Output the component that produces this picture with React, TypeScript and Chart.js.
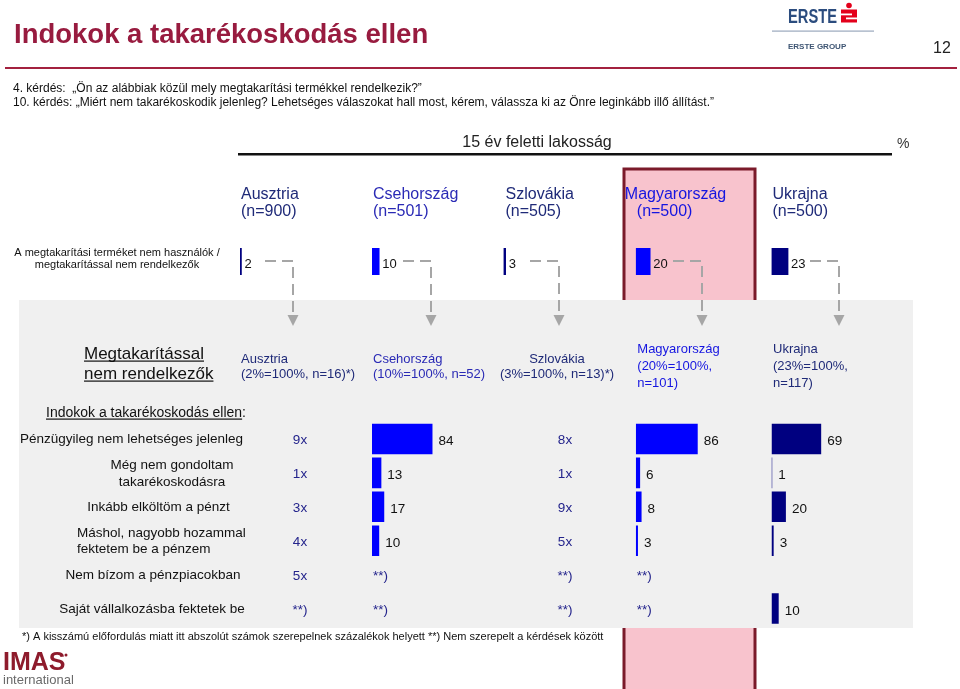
import React, { useEffect, useRef } from 'react';
import { Chart, registerables } from 'chart.js';

Chart.register(...registerables);

// ---------------- DATA ----------------
const countries = ['Ausztria', 'Csehország', 'Szlovákia', 'Magyarország', 'Ukrajna'];
const sampleSizes = [900, 501, 505, 500, 500];
const nonSaverShare = [2, 10, 3, 20, 23];
const nonSaverN = [16, 52, 13, 101, 117];
const smallBase = [true, false, true, false, false];

const reasons = [
  'Pénzügyileg nem lehetséges jelenleg',
  'Még nem gondoltam takarékoskodásra',
  'Inkább elköltöm a pénzt',
  'Máshol, nagyobb hozammal fektetem be a pénzem',
  'Nem bízom a pénzpiacokban',
  'Saját vállalkozásba fektetek be',
];
const reasonLines = [
  ['Pénzügyileg nem lehetséges jelenleg'],
  ['Még nem gondoltam', 'takarékoskodásra'],
  ['Inkább elköltöm a pénzt'],
  ['Máshol, nagyobb hozammal', 'fektetem be a pénzem'],
  ['Nem bízom a pénzpiacokban'],
  ['Saját vállalkozásba fektetek be'],
];

const czechValues = [84, 13, 17, 10, null, null];
const hungaryValues = [86, 6, 8, 3, null, null];
const ukraineValues = [69, 1, 20, 3, null, 10];

const austriaCounts = ['9x', '1x', '3x', '4x', '5x', '**)'];
const slovakiaCounts = ['8x', '1x', '9x', '5x', '**)', '**)'];
const czechNotes = ['', '', '', '', '**)', '**)'];
const hungaryNotes = ['', '', '', '', '**)', '**)'];

const title = 'Indokok a takarékoskodás ellen';
const questions = [
  '4. kérdés:  „Ön az alábbiak közül mely megtakarítási termékkel rendelkezik?”',
  '10. kérdés: „Miért nem takarékoskodik jelenleg? Lehetséges válaszokat hall most, kérem, válassza ki az Önre leginkább illő állítást.”',
];
const populationLabel = '15 év feletti lakosság';
const topRowLabel = ['A megtakarítási terméket nem használók /', 'megtakarítással nem rendelkezők'];
const footnote =
  '*) A kisszámú előfordulás miatt itt abszolút számok szerepelnek százalékok helyett **) Nem szerepelt a kérdések között';

// ---------------- LAYOUT / STYLE ----------------
const W = 960;
const H = 689;
const FONT = '"Liberation Sans", Arial, Helvetica, sans-serif';
const COL_LEFT = [240, 372, 503.5, 635.8, 771.5];
const PX_PER_PCT = 0.72;
const TOP_ROW = { top: 248, bottom: 275 };
const BOT_ROWS = { top: 422, bottom: 625.5 };
const NAVY = '#000080';
const BLUE = '#0000FF';
const topColors = [NAVY, BLUE, NAVY, BLUE, NAVY];
const headerColors = ['#1F2A78', '#2A2AB5', '#1F2A78', '#1515E0', '#1F2A78'];
const countTextColor = '#24248C';

function placeScale(s: any, left: number, top: number, right: number, bottom: number) {
  if (!s) return;
  s.left = left;
  s.right = right;
  s.top = top;
  s.bottom = bottom;
  s.width = right - left;
  s.height = bottom - top;
  s.configure();
}

function txt(
  ctx: CanvasRenderingContext2D,
  s: string,
  x: number,
  y: number,
  size: number,
  color: string,
  o: { align?: CanvasTextAlign; bold?: boolean; underline?: boolean } = {}
) {
  ctx.font = `${o.bold ? 'bold ' : ''}${size}px ${FONT}`;
  ctx.fillStyle = color;
  ctx.textAlign = o.align || 'left';
  ctx.textBaseline = 'alphabetic';
  ctx.fillText(s, x, y);
  if (o.underline) {
    const w = ctx.measureText(s).width;
    const x0 = o.align === 'center' ? x - w / 2 : o.align === 'right' ? x - w : x;
    ctx.fillRect(x0, y + 2, w, 1.2);
  }
}

const decorPlugin = {
  id: 'decor',
  afterLayout(chart: any) {
    COL_LEFT.forEach((l, c) => placeScale(chart.scales['x' + c], l, 0, l + 100 * PX_PER_PCT, H));
    placeScale(chart.scales.yTop, 0, TOP_ROW.top, W, TOP_ROW.bottom);
    placeScale(chart.scales.yBot, 0, BOT_ROWS.top, W, BOT_ROWS.bottom);
  },
  beforeDatasetsDraw(chart: any) {
    const ctx: CanvasRenderingContext2D = chart.ctx;
    ctx.save();
    ctx.fillStyle = '#ffffff';
    ctx.fillRect(0, 0, W, H);

    // Title
    txt(ctx, title, 14, 43, 27.5, '#981B3F', { bold: true });
    // Red rule
    ctx.fillStyle = '#A3213F';
    ctx.fillRect(5, 67, 952, 2);

    // Erste logo
    ctx.save();
    ctx.translate(788, 22.5);
    ctx.font = `bold 20px ${FONT}`;
    const ew = ctx.measureText('ERSTE').width;
    ctx.scale(49 / ew, 1);
    ctx.fillStyle = '#2B4C7E';
    ctx.textAlign = 'left';
    ctx.textBaseline = 'alphabetic';
    ctx.fillText('ERSTE', 0, 0);
    ctx.restore();
    ctx.fillStyle = '#E3001B';
    ctx.beginPath();
    ctx.arc(849, 5.5, 2.8, 0, Math.PI * 2);
    ctx.fill();
    ctx.fillRect(841, 9.5, 16, 13);
    ctx.fillStyle = '#ffffff';
    ctx.fillRect(841, 13.5, 11, 1.8);
    ctx.fillRect(846, 17.5, 11, 1.8);
    ctx.fillStyle = '#9AA8BD';
    ctx.fillRect(772, 30.5, 102, 1.2);
    txt(ctx, 'ERSTE GROUP', 788, 48.5, 8, '#3E5573', { bold: true });
    txt(ctx, '12', 933, 53, 16, '#222222');

    // Questions
    txt(ctx, questions[0], 13, 92, 12, '#111111');
    txt(ctx, questions[1], 13, 106, 12, '#111111');

    // Population header
    txt(ctx, populationLabel, 537, 147, 16, '#222222', { align: 'center' });
    ctx.fillStyle = '#111111';
    ctx.fillRect(238, 153, 654, 2.5);
    txt(ctx, '%', 897, 148, 14, '#333333');

    // Highlight box for Hungary
    ctx.fillStyle = '#F8C3CD';
    ctx.fillRect(624, 169, 131, 540);
    ctx.strokeStyle = '#7B1A2A';
    ctx.lineWidth = 3;
    ctx.strokeRect(624, 169, 131, 540);

    // Country headers
    countries.forEach((c, i) => {
      const x = COL_LEFT[i] + (i === 3 ? -11 : i === 2 ? 2 : 1);
      txt(ctx, c, x, 199, 16, headerColors[i]);
      txt(ctx, `(n=${sampleSizes[i]})`, i === 3 ? x + 12 : x, 216, 16, headerColors[i]);
    });

    // Top row label
    txt(ctx, topRowLabel[0], 117, 256, 11, '#111111', { align: 'center' });
    txt(ctx, topRowLabel[1], 117, 268, 11, '#111111', { align: 'center' });

    // Gray panel
    ctx.fillStyle = '#F0F0F0';
    ctx.fillRect(19, 300, 894, 328);

    // Connectors
    const dashStart = [265, 403, 530, 673, 810];
    const vx = [293, 431, 559, 702, 839];
    ctx.strokeStyle = '#A6A6A6';
    ctx.fillStyle = '#A6A6A6';
    ctx.lineWidth = 2;
    ctx.setLineDash([11, 6]);
    for (let i = 0; i < 5; i++) {
      ctx.beginPath();
      ctx.moveTo(dashStart[i], 261);
      ctx.lineTo(vx[i], 261);
      ctx.lineTo(vx[i], 315);
      ctx.stroke();
    }
    ctx.setLineDash([]);
    for (let i = 0; i < 5; i++) {
      ctx.beginPath();
      ctx.moveTo(vx[i] - 5.5, 315);
      ctx.lineTo(vx[i] + 5.5, 315);
      ctx.lineTo(vx[i], 326);
      ctx.closePath();
      ctx.fill();
    }

    // Lower panel headings
    txt(ctx, 'Megtakarítással', 84, 358.5, 17, '#111111', { underline: true });
    txt(ctx, 'nem rendelkezők', 84, 378.5, 17, '#111111', { underline: true });

    countries.forEach((c, i) => {
      const base = `(${nonSaverShare[i]}%=100%, n=${nonSaverN[i]})${smallBase[i] ? '*)' : ''}`;
      const col = headerColors[i];
      if (i === 2) {
        txt(ctx, c, 557, 362.5, 13, col, { align: 'center' });
        txt(ctx, base, 557, 377.5, 13, col, { align: 'center' });
      } else if (i >= 3) {
        const x = COL_LEFT[i] + 1.5;
        txt(ctx, c, x, 353, 13, col);
        txt(ctx, `(${nonSaverShare[i]}%=100%,`, x, 370, 13, col);
        txt(ctx, `n=${nonSaverN[i]})`, x, 387, 13, col);
      } else {
        const x = COL_LEFT[i] + 1;
        txt(ctx, c, x, 362.5, 13, col);
        txt(ctx, base, x, 377.5, 13, col);
      }
    });

    txt(ctx, 'Indokok a takarékoskodás ellen', 46, 416.5, 14, '#111111', { underline: true });
    ctx.font = `14px ${FONT}`;
    const wInd = ctx.measureText('Indokok a takarékoskodás ellen').width;
    txt(ctx, ':', 46 + wInd, 416.5, 14, '#111111');

    // Row labels
    const yBot = chart.scales.yBot;
    const labelPos: { x: number; align: CanvasTextAlign }[] = [
      { x: 131.5, align: 'center' },
      { x: 172, align: 'center' },
      { x: 158.5, align: 'center' },
      { x: 77, align: 'left' },
      { x: 153, align: 'center' },
      { x: 152, align: 'center' },
    ];
    reasons.forEach((r, i) => {
      const yc = yBot.getPixelForValue(i);
      const lines = reasonLines[i];
      const lh = 16.5;
      lines.forEach((ln, k) => {
        const y = yc + 4.5 + (k - (lines.length - 1) / 2) * lh;
        txt(ctx, ln, labelPos[i].x, y, 13.5, '#111111', { align: labelPos[i].align });
      });
      txt(ctx, austriaCounts[i], 300, yc + 5.5, 13.5, countTextColor, { align: 'center' });
      txt(ctx, slovakiaCounts[i], 565, yc + 5.5, 13.5, countTextColor, { align: 'center' });
      if (czechNotes[i]) txt(ctx, czechNotes[i], COL_LEFT[1] + 1, yc + 5, 13.5, countTextColor);
      if (hungaryNotes[i]) txt(ctx, hungaryNotes[i], COL_LEFT[3] + 1, yc + 5, 13.5, countTextColor);
    });

    // Footnote
    txt(ctx, footnote, 22, 640, 11, '#111111');

    // IMAS logo
    txt(ctx, 'IMAS', 3, 670, 25, '#8E1B2C', { bold: true });
    ctx.fillStyle = '#8E1B2C';
    ctx.beginPath();
    ctx.arc(66, 655, 1.5, 0, Math.PI * 2);
    ctx.fill();
    txt(ctx, 'international', 3, 683.5, 13, '#6A6A6A');

    ctx.restore();
  },
  afterDatasetsDraw(chart: any) {
    const ctx: CanvasRenderingContext2D = chart.ctx;
    ctx.save();
    chart.data.datasets.forEach((ds: any, di: number) => {
      const meta = chart.getDatasetMeta(di);
      meta.data.forEach((el: any, j: number) => {
        const v = ds.data[j];
        if (v === null || v === undefined) return;
        if (ds.yAxisID === 'yTop') {
          txt(ctx, String(v), el.x + 3, el.y + 6, 13, '#111111');
        } else {
          txt(ctx, String(v), el.x + 6, el.y + 6, 13.5, '#111111');
        }
      });
    });
    ctx.restore();
  },
};

export default function App() {
  const ref = useRef<HTMLCanvasElement>(null);
  useEffect(() => {
    document.body.style.margin = '0';
    const datasets: any[] = [];
    nonSaverShare.forEach((v, c) => {
      datasets.push({
        label: countries[c] + ' top',
        data: [v],
        xAxisID: 'x' + c,
        yAxisID: 'yTop',
        backgroundColor: topColors[c],
        barPercentage: 1,
        categoryPercentage: 1,
        grouped: false,
      });
    });
    const lower: [number, (number | null)[], string][] = [
      [1, czechValues, BLUE],
      [3, hungaryValues, BLUE],
      [4, ukraineValues, NAVY],
    ];
    lower.forEach(([c, vals, color]) => {
      datasets.push({
        label: countries[c],
        data: vals,
        xAxisID: 'x' + c,
        yAxisID: 'yBot',
        backgroundColor: color,
        barPercentage: 0.9,
        categoryPercentage: 1,
        grouped: false,
      });
    });
    const scales: any = {
      yTop: { type: 'category', labels: ['nonSavers'], offset: true, display: false },
      yBot: { type: 'category', labels: reasons, offset: true, display: false },
    };
    COL_LEFT.forEach((_, c) => {
      scales['x' + c] = { type: 'linear', axis: 'x', min: 0, max: 100, display: false };
    });
    const chart = new Chart(ref.current as HTMLCanvasElement, {
      type: 'bar',
      data: { datasets },
      options: {
        indexAxis: 'y',
        responsive: false,
        animation: false,
        devicePixelRatio: 1,
        layout: { padding: 0 },
        scales,
        plugins: { legend: { display: false }, tooltip: { enabled: false } },
      },
      plugins: [decorPlugin],
    } as any);
    return () => chart.destroy();
  }, []);
  return (
    <div style={{ width: W, height: H, position: 'relative', overflow: 'hidden', background: '#fff' }}>
      <canvas ref={ref} width={W} height={H} style={{ display: 'block' }} />
    </div>
  );
}
